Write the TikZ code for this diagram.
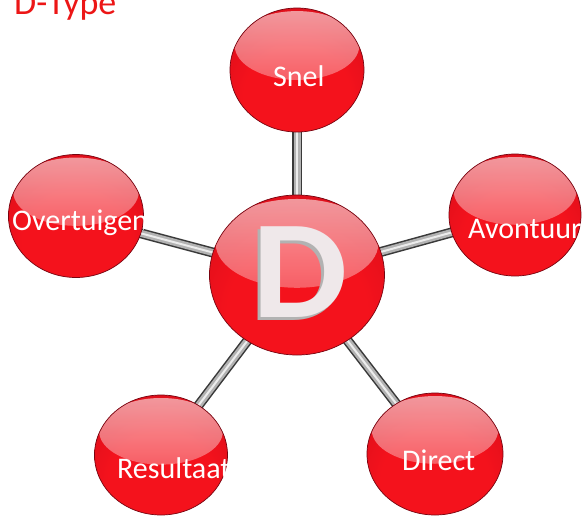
\documentclass[tikz,border=0pt]{standalone}
\usepackage{fontspec}
\setmainfont{Carlito}
\usepackage{xcolor}
\usepackage{tikz}
\usetikzlibrary{shapes.geometric,backgrounds,fadings}

\definecolor{sphlight}{RGB}{244,18,28}
\definecolor{sphmid}{RGB}{208,12,26}
\definecolor{sphdark}{RGB}{140,6,18}
\definecolor{sphedge}{RGB}{118,4,16}
\definecolor{dwhite}{RGB}{239,232,234}
\definecolor{titlered}{RGB}{236,22,22}

\pgfdeclareradialshading{spherebody}{\pgfpoint{0bp}{-16bp}}{color(0bp)=(sphlight); color(20bp)=(sphlight); color(42bp)=(sphmid); color(64bp)=(sphdark)}
\tikzfading[name=glossfade, top color=transparent!42, bottom color=transparent!86]

\begin{document}
\begin{tikzpicture}[
  x=1pt,
  y=-1pt,
  sphere/.style n args={2}{ellipse,minimum width=#1,minimum height=#2,inner sep=0pt,
    draw=sphedge,line width=0.7pt,shading=spherebody,
    path picture={\fill[white,path fading=glossfade]
      ([yshift=0.1975*#2]path picture bounding box.center)
      ellipse [x radius=0.465*#1,y radius=0.2775*#2];}},
  lbl/.style={font=\fontsize{30}{36}\selectfont,text=white,anchor=base west,inner sep=0pt},
  bigd/.style={font=\fontsize{140}{140}\bfseries\selectfont,anchor=base,inner sep=0pt,xscale=1.08},
  rod/.style={draw=gray!45!black,line width=10pt,
    postaction={draw=gray!60,line width=7pt},
    postaction={draw=white!85!gray,line width=2pt}}
]
  \useasboundingbox (0,0) rectangle (582,515);
  \node[font=\fontsize{36}{40}\selectfont,text=titlered,anchor=base west,inner sep=0pt] (title) at (14,14) {D-Type};

  % spheres
  \node[sphere={175pt}{160pt}] (d) at (297,275) {};
  \node[sphere={134pt}{124pt}] (snel) at (297,70) {};
  \node[sphere={132pt}{122pt}] (avontuur) at (515,215) {};
  \node[sphere={136pt}{122pt}] (direct) at (435,454) {};
  \node[sphere={133pt}{120pt}] (resultaat) at (161,455) {};
  \node[sphere={135pt}{123pt}] (overtuigen) at (76,216) {};

  % rods
  \begin{scope}[on background layer]
    \draw[rod] (d.center) -- (snel.center);
    \draw[rod] (d.center) -- (avontuur.center);
    \draw[rod] (d.center) -- (direct.center);
    \draw[rod] (d.center) -- (resultaat.center);
    \draw[rod] (d.center) -- (overtuigen.center);
  \end{scope}

  % big letter
  \node[bigd,text=gray!60] (dshadow) at (297,320) {D};
  \node[bigd,text=dwhite] (dletter) at (300,317) {D};

  % labels
  \node[lbl] (snel-txt) at (273,86) {Snel};
  \node[lbl] (direct-txt) at (402,470) {Direct};
  \begin{scope}
    \clip (avontuur.west |- avontuur.north) rectangle (avontuur.east |- avontuur.south);
    \node[lbl] (avontuur-txt) at (468,238) {Avontuur};
  \end{scope}
  \begin{scope}
    \clip (resultaat.west |- resultaat.north) rectangle (resultaat.east |- resultaat.south);
    \node[lbl] (resultaat-txt) at (117,478) {Resultaat};
  \end{scope}
  \begin{scope}
    \clip (overtuigen.west |- overtuigen.north) rectangle (overtuigen.east |- overtuigen.south);
    \node[lbl] (overtuigen-txt) at (12,230) {Overtuigen};
  \end{scope}
\end{tikzpicture}
\end{document}
